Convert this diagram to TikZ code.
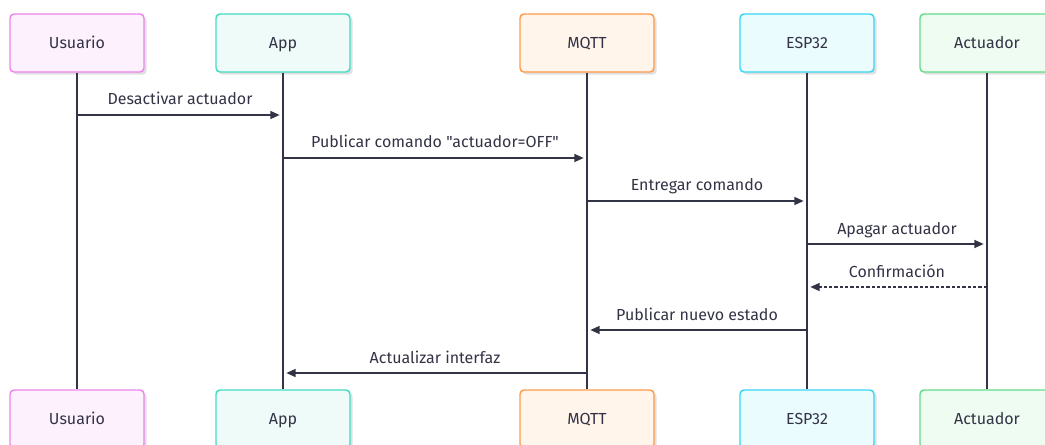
\documentclass[tikz,border=0pt]{standalone}
\usepackage{fontspec}
\setmainfont{Fira Sans}[Ligatures=TeXOff]
\usetikzlibrary{arrows.meta,shadows}
\definecolor{ink}{HTML}{333346}
\definecolor{usrline}{HTML}{EE85EE}
\definecolor{usrfill}{HTML}{FDF1FD}
\definecolor{appline}{HTML}{42DCC4}
\definecolor{appfill}{HTML}{EEFBF8}
\definecolor{mqline}{HTML}{FF9A47}
\definecolor{mqfill}{HTML}{FFF5EB}
\definecolor{espline}{HTML}{36D7F2}
\definecolor{espfill}{HTML}{EAFCFE}
\definecolor{actline}{HTML}{62DC8B}
\definecolor{actfill}{HTML}{EFFCF2}
\tikzset{
	actor/.style={draw=#1line,fill=#1fill,line width=1.1pt,rounded corners=3pt,
		minimum width=100.5pt,minimum height=43.5pt,text=ink,font=\fontsize{12}{14}\selectfont,
		text height=8pt,text depth=0pt,
		drop shadow={shadow xshift=2pt,shadow yshift=-2pt,opacity=0.12,fill=black}},
	life/.style={draw=ink,line width=1.1pt},
	msg/.style={draw=ink,line width=1.1pt,-{Triangle[length=7pt,width=6pt]},shorten >=2.5pt},
	reply/.style={msg,dash pattern=on 2.5pt off 1.5pt},
	lbl/.style={text=ink,font=\fontsize{12}{14}\selectfont,text height=8pt,text depth=0pt,yshift=11.5pt}
}
\begin{document}
\begin{tikzpicture}[x=0.75pt,y=-0.75pt]
	\useasboundingbox (0,0) rectangle (1045,445);
	% participants, top and bottom
	\node[actor=usr] (usrT) at (77,43) {Usuario};
	\node[actor=app] (appT) at (283,43) {App};
	\node[actor=mq] (mqT) at (587,43) {MQTT};
	\node[actor=esp] (espT) at (807,43) {ESP32};
	\node[actor=act] (actT) at (987,43) {Actuador};
	\node[actor=usr] (usrB) at (77,419) {Usuario};
	\node[actor=app] (appB) at (283,419) {App};
	\node[actor=mq] (mqB) at (587,419) {MQTT};
	\node[actor=esp] (espB) at (807,419) {ESP32};
	\node[actor=act] (actB) at (987,419) {Actuador};
	% lifelines
	\draw[life] (usrT) -- (usrB);
	\draw[life] (appT) -- (appB);
	\draw[life] (mqT) -- (mqB);
	\draw[life] (espT) -- (espB);
	\draw[life] (actT) -- (actB);
	% messages
	\draw[msg] (usrT |- 0,115) -- node[lbl]{Desactivar actuador} (appT |- 0,115);
	\draw[msg] (appT |- 0,158) -- node[lbl]{Publicar comando "actuador=OFF"} (mqT |- 0,158);
	\draw[msg] (mqT |- 0,201) -- node[lbl]{Entregar comando} (espT |- 0,201);
	\draw[msg] (espT |- 0,244) -- node[lbl]{Apagar actuador} (actT |- 0,244);
	\draw[reply] (actT |- 0,287) -- node[lbl]{Confirmación} (espT |- 0,287);
	\draw[msg] (espT |- 0,330) -- node[lbl]{Publicar nuevo estado} (mqT |- 0,330);
	\draw[msg] (mqT |- 0,373) -- node[lbl]{Actualizar interfaz} (appT |- 0,373);
\end{tikzpicture}
\end{document}
